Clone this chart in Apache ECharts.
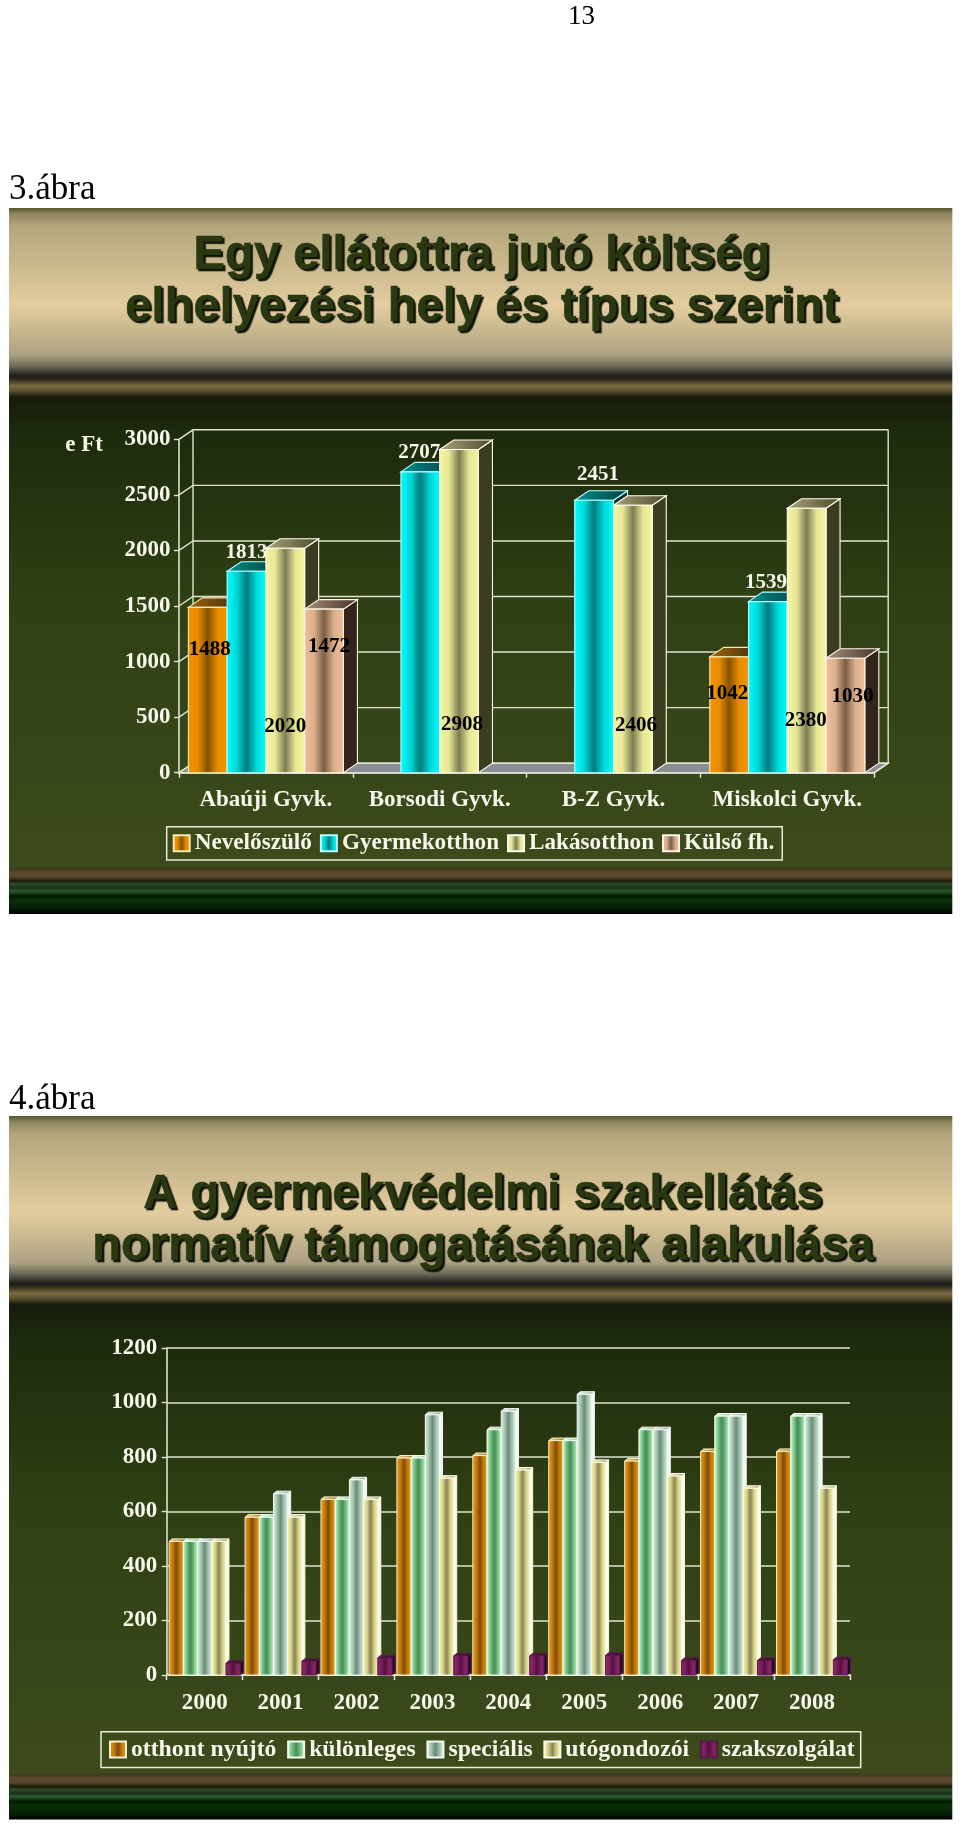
<!DOCTYPE html>
<html>
<head>
<meta charset="utf-8">
<style>html,body{margin:0;padding:0;background:#fff}#c{width:960px;height:1830px}</style>
<script src="https://cdn.jsdelivr.net/npm/echarts@6/dist/echarts.min.js"></script>
</head>
<body>
<div id="c"></div>
<script>
// ---- chart 3: data
const categories3 = ['Abaúji Gyvk.', 'Borsodi Gyvk.', 'B-Z Gyvk.', 'Miskolci Gyvk.'];
const nevelo = [1488, null, null, 1042];
const gyermek = [1813, 2707, 2451, 1539];
const lakas = [2020, 2908, 2406, 2380];
const kulso = [1472, null, null, 1030];
const ticks3 = [0, 500, 1000, 1500, 2000, 2500, 3000];

// ---- chart 4: data
const categories4 = ['2000', '2001', '2002', '2003', '2004', '2005', '2006', '2007', '2008'];
const otthont = [490, 579, 644, 796, 805, 860, 785, 820, 820];
const kulonleges = [490, 579, 644, 796, 900, 860, 900, 950, 950];
const specialis = [490, 665, 716, 955, 968, 1030, 900, 950, 950];
const utogondozoi = [490, 579, 644, 722, 752, 780, 730, 685, 685];
const szakszolgalat = [43, 50, 63, 70, 70, 72, 53, 53, 56];

// ---- label placement of chart 3 (height on the value axis, x nudge in px)
const labelAt = {
  nevelo:  { y: [1107, 0, 0, 708],     dx: [2, 0, 0, -2] },
  gyermek: { y: [1977, 2878, 2680, 1712], dx: [0, -1, 4, -2] },
  lakas:   { y: [415, 430, 425, 465],  dx: [0, 3, 3, -1] },
  kulso:   { y: [1134, 0, 0, 681],     dx: [5, 0, 0, 7] }
};

const SERIF = '"Liberation Serif", serif';
const SANS = '"Liberation Sans", Arial, sans-serif';
const LINE = '#dfe3cf';

function hGrad(stops) {
  return new echarts.graphic.LinearGradient(0, 0, 1, 0,
    stops.map((c, i) => ({ offset: i / (stops.length - 1), color: c })));
}
const looks = {
  orange3: { face: ['#f59300', '#e98c00', '#855200', '#e98c00', '#f59300'], top: ['#9c6410', '#3f2a0c'], side: '#3a2a10', edge: '#f4e9b0' },
  cyan3:   { face: ['#00ffff', '#00d8d8', '#007c7c', '#00d8d8', '#00ffff'], top: ['#008f8f', '#003f3f'], side: '#0f3030', edge: '#b8ffff' },
  lakas3:  { face: ['#f6f6a4', '#e6e696', '#7c7c52', '#e6e696', '#f6f6a4'], top: ['#a8a47a', '#4c4a2c'], side: '#3c3c20', edge: '#fffff0' },
  kulso3:  { face: ['#eec09a', '#dcae8a', '#7a5e48', '#dcae8a', '#eec09a'], top: ['#a89078', '#42322a'], side: '#33241c', edge: '#fff4e8' },
  orange4: { face: ['#e89a18', '#c87e10', '#7e4c04', '#c87e10', '#e89a18'], top: ['#f0d090', '#a07020'], side: '#f4ead0', edge: '#f8f0c8' },
  green4:  { face: ['#d8ffd8', '#78c488', '#468a54', '#78c488', '#d8ffd8'], top: ['#f0fff0', '#90c090'], side: '#f0fff0', edge: '#f0fff0' },
  spec4:   { face: ['#e0f4e4', '#a4c8b0', '#6c8a78', '#a4c8b0', '#e0f4e4'], top: ['#f0f8f0', '#90a898'], side: '#f4faf4', edge: '#f4faf4' },
  uto4:    { face: ['#fafab0', '#d8d490', '#8a8450', '#d8d490', '#fafab0'], top: ['#f8f8d0', '#a8a470'], side: '#fafae8', edge: '#fafae8' },
  szak4:   { face: ['#8a2a6c', '#7c2260', '#561040', '#7c2260', '#8a2a6c'], top: ['#641a4c', '#300824'], side: '#24051a', edge: '#5a1a48' }
};

function barSeries(cfg) {
  const look = looks[cfg.look];
  const faceFill = hGrad(look.face);
  const topFill = new echarts.graphic.LinearGradient(0, 0, 1, 0, [
    { offset: 0, color: look.top[0] }, { offset: 1, color: look.top[1] }]);
  return {
    type: 'custom',
    name: cfg.name,
    xAxisIndex: cfg.axis, yAxisIndex: cfg.axis,
    clip: false, silent: true,
    itemStyle: { color: faceFill, borderColor: look.edge, borderWidth: 1.5, opacity: 1 },
    encode: { x: 0, y: 1 },
    data: cfg.values.map((v, i) => [i, v === null ? '-' : v]),
    renderItem(params, api) {
      const value = api.value(1);
      if (value === null || value === undefined || isNaN(value)) return null;
      const cat = api.value(0);
      const band = api.size([1, 0])[0];
      const w = band * cfg.groupRatio / cfg.count;
      const p = api.coord([cat, value]);
      const base = api.coord([cat, 0]);
      const x0 = p[0] - (band * cfg.groupRatio) / 2 + cfg.order * w;
      const x1 = x0 + w;
      const y = p[1], y0 = base[1], dx = cfg.dx, dy = cfg.dy;
      const z = cfg.order;
      const children = [
        { type: 'polygon', z2: z, shape: { points: [[x1, y], [x1 + dx, y - dy], [x1 + dx, y0 - dy], [x1, y0]] },
          style: { fill: look.side, stroke: look.edge, lineWidth: cfg.edgeW } },
        { type: 'polygon', z2: z, shape: { points: [[x0, y], [x1, y], [x1 + dx, y - dy], [x0 + dx, y - dy]] },
          style: { fill: topFill, stroke: look.edge, lineWidth: cfg.edgeW } },
        { type: 'rect', z2: z, shape: { x: x0, y: y, width: w, height: y0 - y },
          style: { fill: faceFill, stroke: look.edge, lineWidth: cfg.edgeW } }
      ];
      if (cfg.labels) {
        const at = api.coord([cat, cfg.labels.y[params.dataIndex]]);
        children.push({
          type: 'text', z2: cfg.labelColor === '#000000' ? 60 : z,
          style: {
            text: String(value), x: x0 + w / 2 + cfg.labels.dx[params.dataIndex], y: at[1],
            align: 'center', verticalAlign: 'middle',
            font: 'bold 21px ' + SERIF, fill: cfg.labelColor
          }
        });
      }
      return { type: 'group', children };
    }
  };
}

// back wall + floor of chart 3, one item for every value tick
const wallSeries = {
  type: 'custom', silent: true, clip: false, xAxisIndex: 0, yAxisIndex: 0,
  encode: { x: 0, y: 1 },
  data: ticks3.map(t => [0, t]),
  z: 1,
  renderItem(params, api) {
    const r = params.coordSys, dx = 14, dy = 9.5;
    const y = api.coord([0, api.value(1)])[1];
    const s = { stroke: LINE, lineWidth: 1.4, fill: 'none' };
    const kids = [
      { type: 'polyline', shape: { points: [[r.x, y], [r.x + dx, y - dy], [r.x + r.width + dx, y - dy]] }, style: s }
    ];
    if (params.dataIndex === 0) {
      const b = r.y + r.height;
      kids.unshift({ type: 'polygon', shape: { points: [[r.x, b], [r.x + r.width, b], [r.x + r.width + dx, b - dy], [r.x + dx, b - dy]] },
        style: { fill: '#8d8d96', stroke: LINE, lineWidth: 1.4 } });
      kids.push({ type: 'line', shape: { x1: r.x + dx, y1: r.y - dy, x2: r.x + dx, y2: b - dy }, style: s });
      kids.push({ type: 'line', shape: { x1: r.x + r.width + dx, y1: r.y - dy, x2: r.x + r.width + dx, y2: b - dy }, style: s });
      kids.push({ type: 'line', shape: { x1: r.x + r.width, y1: b, x2: r.x + r.width + dx, y2: b - dy }, style: s });
    }
    return { type: 'group', children: kids };
  }
};

// panel backdrop
const bandStops = [
  [0, '#55552e'], [6, '#8f8660'], [18, '#b3a67c'], [97, '#e3cda0'], [122, '#c9b88e'], [147, '#aca184'],
  [158, '#6e6a58'], [168, '#1e1e1a'], [171, '#2a2818'], [178, '#7d6c42'], [183, '#5a4f30'], [189, '#161b0a'],
  [222, '#1d2a0c'], [392, '#2f4014'], [659, '#3d4b1c'], [661, '#3a3a1c'], [664, '#5a4a2a'], [669, '#55482a'], [673, '#1a1a08'],
  [676, '#2f4a28'], [680, '#1a3018'], [683, '#2e5a2e'], [688, '#001a00'], [692, '#0a3008'], [700, '#052005'], [706, '#000000']
];
function panel(top, height) {
  return {
    type: 'rect', z: -10, silent: true,
    shape: { x: 9, y: top, width: 943.3, height },
    style: { fill: new echarts.graphic.LinearGradient(0, 0, 0, 1,
      bandStops.map(s => ({ offset: s[0] / 706, color: s[1] }))) }
  };
}
function pageText(text, x, y, size) {
  return { type: 'text', z: 5, silent: true, x, y,
    style: { text, font: size + 'px ' + SERIF, fill: '#000', verticalAlign: 'middle' } };
}
function chartTitle(text, left, cy) {
  return {
    text, left, top: cy, textAlign: 'center',
    textStyle: {
      fontFamily: SANS, fontWeight: 'bold', fontSize: 47.2, lineHeight: 52, color: '#2a3812',
      textBorderColor: '#2a3812', textBorderWidth: 0.6,
      textShadowColor: '#0d1104', textShadowOffsetX: 2, textShadowOffsetY: 2, textShadowBlur: 1
    }
  };
}
function legendCfg(names, left, top, size, padding, gap) {
  return {
    data: names, left, top, orient: 'horizontal', padding, itemGap: gap,
    itemWidth: 16, itemHeight: 16, selectedMode: false, icon: 'rect',
    borderColor: '#e8ecd8', borderWidth: 1.5, backgroundColor: 'transparent',
    textStyle: { fontFamily: SERIF, fontWeight: 'bold', fontSize: size, lineHeight: size + 2, color: '#f6f6ea' }
  };
}
function xAxisCfg(grid, data, margin) {
  return {
    type: 'category', gridIndex: grid, data, boundaryGap: true,
    axisLine: { show: true, onZero: false, lineStyle: { color: '#eef0e0', width: 1.6 } },
    axisTick: { show: true, alignWithLabel: false, length: 5, lineStyle: { color: '#eef0e0', width: 1.4 } },
    axisLabel: { interval: 0, margin, fontFamily: SERIF, fontWeight: 'bold', fontSize: 23, color: '#f6f6ea' },
    splitLine: { show: false }
  };
}
function yAxisCfg(grid, max, interval, split, margin, extra) {
  return Object.assign({
    type: 'value', gridIndex: grid, min: 0, max, interval,
    axisLine: { show: true, lineStyle: { color: LINE, width: 1.6 } },
    axisTick: { show: true, length: 5, lineStyle: { color: LINE, width: 1.4 } },
    axisLabel: { margin, formatter: v => String(v), fontFamily: SERIF, fontWeight: 'bold', fontSize: 23, color: '#f6f6ea' },
    splitLine: { show: split, lineStyle: { color: LINE, width: 1.5 } }
  }, extra || {});
}

const s3 = { axis: 0, count: 4, groupRatio: 155 / 173.75, dx: 14, dy: 9.5, edgeW: 1.1, labelColor: '#000000' };
const s4 = { axis: 1, count: 5, groupRatio: 71 / 75.9, dx: 3, dy: 2.6, edgeW: 1 };

const option = {
  animation: false,
  backgroundColor: '#ffffff',
  title: [
    chartTitle('Egy ellátottra jutó költség\nelhelyezési hely és típus szerint', 477, 225),
    chartTitle('A gyermekvédelmi szakellátás\nnormatív támogatásának alakulása', 478, 1164)
  ],
  graphic: [
    panel(208, 706), panel(1116, 703.5),
    pageText('13', 568, 17, 27),
    pageText('3.ábra', 9, 190, 35),
    pageText('4.ábra', 9, 1100, 35)
  ],
  legend: [
    legendCfg(['Nevelőszülő', 'Gyermekotthon', 'Lakásotthon', 'Külső fh.'], 166.7, 826.7, 23.2, [4, 8, 4, 6], 8),
    legendCfg(['otthont nyújtó', 'különleges', 'speciális', 'utógondozói', 'szakszolgálat'], 101, 1731.7, 23.7, [5, 6, 5, 8], 10.7)
  ],
  grid: [
    { left: 179, top: 439.3, width: 695.2, height: 333.4 },
    { left: 166.7, top: 1348, width: 683.3, height: 327 }
  ],
  xAxis: [xAxisCfg(0, categories3, 16), xAxisCfg(1, categories4, 17)],
  yAxis: [
    yAxisCfg(0, 3000, 500, false, 8.5, {
      name: 'e Ft', nameLocation: 'end', nameGap: -6,
      nameTextStyle: { fontFamily: SERIF, fontWeight: 'bold', fontSize: 23, color: '#f6f6ea', align: 'right', verticalAlign: 'middle', padding: [0, 76, 0, 0] }
    }),
    yAxisCfg(1, 1200, 200, true, 9.5)
  ],
  series: [
    wallSeries,
    barSeries(Object.assign({}, s3, { name: 'Nevelőszülő', values: nevelo, order: 0, look: 'orange3', labels: labelAt.nevelo })),
    barSeries(Object.assign({}, s3, { name: 'Gyermekotthon', values: gyermek, order: 1, look: 'cyan3', labels: labelAt.gyermek, labelColor: '#f6f6ea' })),
    barSeries(Object.assign({}, s3, { name: 'Lakásotthon', values: lakas, order: 2, look: 'lakas3', labels: labelAt.lakas })),
    barSeries(Object.assign({}, s3, { name: 'Külső fh.', values: kulso, order: 3, look: 'kulso3', labels: labelAt.kulso })),
    barSeries(Object.assign({}, s4, { name: 'otthont nyújtó', values: otthont, order: 0, look: 'orange4' })),
    barSeries(Object.assign({}, s4, { name: 'különleges', values: kulonleges, order: 1, look: 'green4' })),
    barSeries(Object.assign({}, s4, { name: 'speciális', values: specialis, order: 2, look: 'spec4' })),
    barSeries(Object.assign({}, s4, { name: 'utógondozói', values: utogondozoi, order: 3, look: 'uto4' })),
    barSeries(Object.assign({}, s4, { name: 'szakszolgálat', values: szakszolgalat, order: 4, look: 'szak4' }))
  ]
};
const chart = echarts.init(document.getElementById('c'));
chart.setOption(option);
</script>
</body>
</html>
